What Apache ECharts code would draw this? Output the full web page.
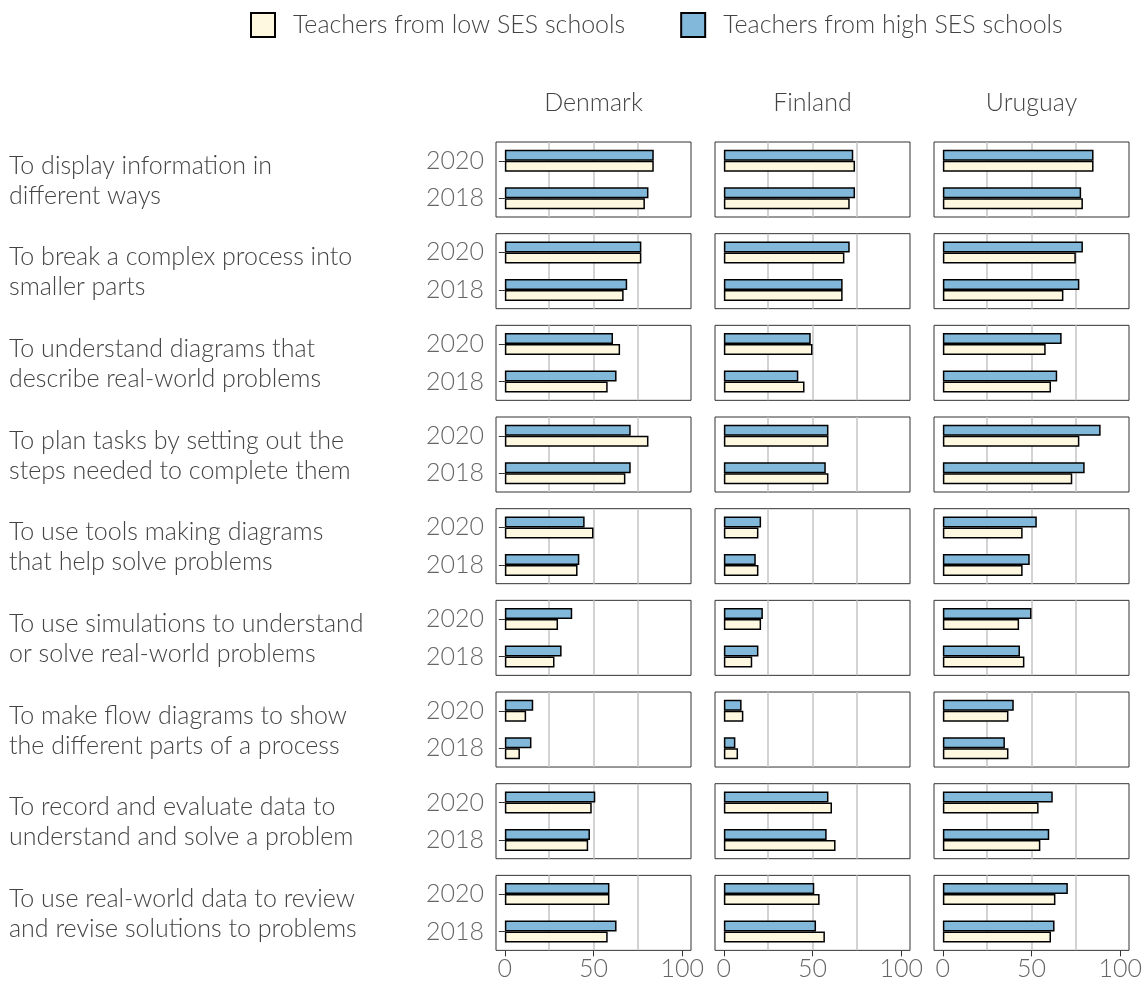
<!DOCTYPE html>
<html style="height: 100%">
<head>
<meta charset="utf-8">
<title>Teachers by SES</title>
<script src="https://cdn.jsdelivr.net/npm/echarts@6/dist/echarts.min.js"></script>
</head>
<body style="height: 100%; margin: 0">
<div id="container" style="width: 1148px; height: 986px"></div>
<script type="text/javascript">
// labels
var countries = ['Denmark', 'Finland', 'Uruguay'];
var years = ['2020', '2018'];
var items = [
  'To display information in\ndifferent ways',
  'To break a complex process into\nsmaller parts',
  'To understand diagrams that\ndescribe real-world problems',
  'To plan tasks by setting out the\nsteps needed to complete them',
  'To use tools making diagrams\nthat help solve problems',
  'To use simulations to understand\nor solve real-world problems',
  'To make flow diagrams to show\nthe different parts of a process',
  'To record and evaluate data to\nunderstand and solve a problem',
  'To use real-world data to review\nand revise solutions to problems'
];
var seriesNames = ['Teachers from low SES schools', 'Teachers from high SES schools'];

// values (% of teachers), one entry per item
var denmarkHigh2020 = [84, 77, 61, 71, 45, 38, 16, 51, 59];
var denmarkLow2020  = [84, 77, 65, 81, 50, 30, 12, 49, 59];
var denmarkHigh2018 = [81, 69, 63, 71, 42, 32, 15, 48, 63];
var denmarkLow2018  = [79, 67, 58, 68, 41, 28, 8.5, 47, 58];

var finlandHigh2020 = [73, 71, 49, 59, 21, 22, 10, 59, 51];
var finlandLow2020  = [74, 68, 50, 59, 19.5, 21, 11, 61, 54];
var finlandHigh2018 = [74, 67, 42, 57.5, 18, 19.5, 6.5, 58, 52];
var finlandLow2018  = [71, 67, 45.5, 59, 19.5, 16, 8, 63, 57];

var uruguayHigh2020 = [85, 79, 67, 89, 53, 50, 40, 62, 70.5];
var uruguayLow2020  = [85, 75, 58, 77, 45, 43, 37, 54, 63.5];
var uruguayHigh2018 = [78, 77, 64.5, 80, 49, 43.5, 35, 60, 63];
var uruguayLow2018  = [79, 68, 61, 73, 45, 46, 37, 55, 61];

var highData = [
  [denmarkHigh2020, denmarkHigh2018],
  [finlandHigh2020, finlandHigh2018],
  [uruguayHigh2020, uruguayHigh2018]
];
var lowData = [
  [denmarkLow2020, denmarkLow2018],
  [finlandLow2020, finlandLow2018],
  [uruguayLow2020, uruguayLow2018]
];

var dom = document.getElementById('container');
var myChart = echarts.init(dom);

var colLeft = [496, 715, 934];
var panelW = 195, panelH = 75, rowTop = 142, rowStep = 91.67;
var fontFam = 'Lato';
var fs = 25;
var blue = '#82B9DA', cream = '#FFF8E1';

var grids = [], xAxes = [], yAxes = [], series = [], graphics = [];

for (var r = 0; r < items.length; r++) {
  for (var c = 0; c < countries.length; c++) {
    var g = grids.length;
    var bottomRow = r === items.length - 1;
    grids.push({
      left: colLeft[c], top: rowTop + r * rowStep, width: panelW, height: panelH,
      show: true, borderColor: '#333', borderWidth: 1, backgroundColor: 'transparent'
    });
    // main axis: ticks and labels
    xAxes.push({
      gridIndex: g, type: 'value', min: -5, max: 105, position: 'bottom',
      axisLine: { show: false },
      splitLine: { show: false },
      axisTick: { show: bottomRow, length: 6, customValues: [0, 50, 100], lineStyle: { color: '#333' } },
      axisLabel: { show: bottomRow, customValues: [0, 50, 100], fontSize: fs, color: '#666',
        fontFamily: fontFam, fontWeight: 300, margin: 6 }
    });
    // overlay axis for grid lines
    xAxes.push({
      gridIndex: g, type: 'value', min: -5, max: 105, position: 'top',
      axisLine: { show: false },
      axisTick: { show: false, customValues: [25, 50, 75] },
      axisLabel: { show: false },
      splitLine: { show: true, lineStyle: { color: '#c4c4c4', width: 1.5 } }
    });
    yAxes.push({
      gridIndex: g, type: 'category', data: years, inverse: true,
      axisLine: { show: false },
      axisTick: { show: c === 0, alignWithLabel: true, length: 6, lineStyle: { color: '#333' } },
      axisLabel: { show: c === 0, fontSize: fs, color: '#666', fontFamily: fontFam, fontWeight: 300, margin: 12 }
    });
    series.push({
      name: seriesNames[1], type: 'bar', xAxisIndex: 2 * g, yAxisIndex: g,
      barWidth: 11, barGap: '0%',
      itemStyle: { color: blue, borderColor: '#000', borderWidth: 1.5 },
      data: [highData[c][0][r], highData[c][1][r]]
    });
    series.push({
      name: seriesNames[0], type: 'bar', xAxisIndex: 2 * g, yAxisIndex: g,
      barWidth: 11, barGap: '0%',
      itemStyle: { color: cream, borderColor: '#000', borderWidth: 1.5 },
      data: [lowData[c][0][r], lowData[c][1][r]]
    });
  }
  graphics.push({
    type: 'text',
    style: {
      x: 9, y: rowTop + r * rowStep + panelH / 2 + 1, text: items[r],
      font: '300 ' + fs + 'px Lato', fill: '#444', lineHeight: 30, verticalAlign: 'middle'
    }
  });
}

for (var c = 0; c < countries.length; c++) {
  graphics.push({
    type: 'text',
    style: {
      x: colLeft[c] + panelW / 2, y: 103, text: countries[c],
      font: '300 ' + fs + 'px Lato', fill: '#444', align: 'center', verticalAlign: 'middle'
    }
  });
}

var option = {
  animation: false,
  legend: {
    data: seriesNames, left: 245, top: 7, icon: 'rect',
    itemWidth: 24, itemHeight: 24, itemGap: 55,
    textStyle: { fontSize: fs, color: '#444', fontFamily: fontFam, fontWeight: 300, padding: [0, 0, 0, 13] }
  },
  grid: grids,
  xAxis: xAxes,
  yAxis: yAxes,
  series: series,
  graphic: graphics
};

myChart.setOption(option);
</script>
</body>
</html>
